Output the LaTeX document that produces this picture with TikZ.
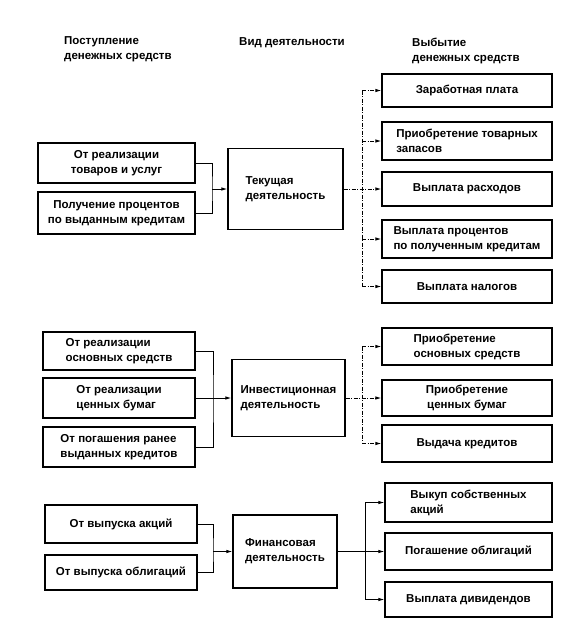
\documentclass[tikz,border=0pt]{standalone}
\usepackage{fontspec}
\setmainfont{Liberation Sans}
\usetikzlibrary{arrows.meta}
\begin{document}
\begin{tikzpicture}[x=1pt,y=-1pt,
  txt/.style={font=\fontsize{11.5}{15}\selectfont\bfseries, inner sep=0pt},
  box/.style={draw, line width=1.2pt, font=\fontsize{11.5}{15}\selectfont\bfseries, inner sep=2pt},
  conn/.style={line width=0.9pt},
  dconn/.style={line width=0.9pt, dash pattern=on 4pt off 1.5pt on 1pt off 1.5pt},
  arr/.style={-{Latex[length=6pt,width=3.5pt]}}
]
\fill[white] (0,0) rectangle (570,630);
\useasboundingbox (0,0) rectangle (570,630);

% headers
\node[txt, anchor=west, align=left] (h1) at (64,49) {Поступление\\денежных средств};
\node[txt, anchor=west] (h2) at (239,43) {Вид деятельности};
\node[txt, anchor=west, align=left] (h3) at (412,51) {Выбытие\\денежных средств};

% current activity
\node[box, minimum width=157, minimum height=40, align=center] (c1) at (116.5,163) {От реализации\\товаров и услуг};
\node[box, minimum width=157, minimum height=42, align=center] (c2) at (116.5,213) {Получение процентов\\по выданным кредитам};
\node[box, minimum width=115, minimum height=81, align=left] (tek) at (285.5,189) {Текущая\\деятельность};
\node[box, minimum width=170, minimum height=33, align=center] (r1) at (467,90.5) {Заработная плата};
\node[box, minimum width=170, minimum height=38, align=left] (r2) at (467,141) {Приобретение товарных\\запасов};
\node[box, minimum width=170, minimum height=34, align=center] (r3) at (467,189) {Выплата расходов};
\node[box, minimum width=170, minimum height=38, align=left] (r4) at (467,239) {Выплата процентов\\по полученным кредитам};
\node[box, minimum width=170, minimum height=33, align=center] (r5) at (467,286.5) {Выплата налогов};

\coordinate (cj) at (212,189);
\coordinate (cx) at (362,0);
\draw[conn] (c1.east) -| (cj) |- (c2.east);
\draw[conn,arr] (cj) -- (tek.west);
\draw[dconn] (r1.west -| cx) -- (r5.west -| cx);
\draw[dconn,arr] (tek.east) -- (r3.west);
\foreach \n in {r1,r2,r4,r5} \draw[dconn,arr] (\n.west -| cx) -- (\n.west);

% investment activity
\node[box, minimum width=152, minimum height=38, align=left] (i1) at (119,351) {От реализации\\основных средств};
\node[box, minimum width=152, minimum height=40, align=left] (i2) at (119,398) {От реализации\\ценных бумаг};
\node[box, minimum width=152, minimum height=40, align=left] (i3) at (119,447) {От погашения ранее\\выданных кредитов};
\node[box, minimum width=113, minimum height=77, align=left] (inv) at (288.5,398) {Инвестиционная\\деятельность};
\node[box, minimum width=170, minimum height=37, align=left] (ir1) at (467,346.5) {Приобретение\\основных средств};
\node[box, minimum width=170, minimum height=36, align=center] (ir2) at (467,398) {Приобретение\\ценных бумаг};
\node[box, minimum width=170, minimum height=37, align=center] (ir3) at (467,443.5) {Выдача кредитов};

\coordinate (ij) at (213,398);
\draw[conn] (i1.east) -| (ij) |- (i3.east);
\draw[conn,arr] (i2.east) -- (inv.west);
\draw[dconn] (ir1.west -| cx) -- (ir3.west -| cx);
\draw[dconn,arr] (inv.east) -- (ir2.west);
\foreach \n in {ir1,ir3} \draw[dconn,arr] (\n.west -| cx) -- (\n.west);

% financial activity
\node[box, minimum width=152, minimum height=38, align=center] (f1) at (121,524) {От выпуска акций};
\node[box, minimum width=152, minimum height=35, align=center] (f2) at (121,572.5) {От выпуска облигаций};
\node[box, minimum width=104, minimum height=73, align=left] (fin) at (285,551.5) {Финансовая\\деятельность};
\node[box, minimum width=167, minimum height=39, align=left] (fr1) at (468.5,502.5) {Выкуп собственных\\акций};
\node[box, minimum width=167, minimum height=37, align=center] (fr2) at (468.5,551.5) {Погашение облигаций};
\node[box, minimum width=167, minimum height=35, align=center] (fr3) at (468.5,599.5) {Выплата дивидендов};

\coordinate (fj) at (213,551.5);
\coordinate (fx) at (365,0);
\draw[conn] (f1.east) -| (fj) |- (f2.east);
\draw[conn,arr] (fj) -- (fin.west);
\draw[conn] (fr1.west -| fx) -- (fr3.west -| fx);
\draw[conn,arr] (fin.east) -- (fr2.west);
\foreach \n in {fr1,fr3} \draw[conn,arr] (\n.west -| fx) -- (\n.west);
\end{tikzpicture}
\end{document}
